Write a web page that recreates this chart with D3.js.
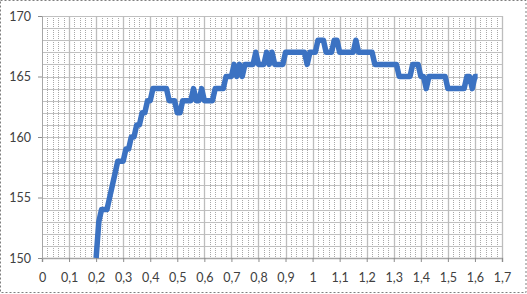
<!DOCTYPE html>
<html>
<head>
<meta charset="utf-8">
<script src="https://cdn.jsdelivr.net/npm/d3@7"></script>
<style>
  html, body { margin: 0; padding: 0; background: #fff; }
  svg { display: block; }
  .tick text { font-family: Lato, "Open Sans", sans-serif; font-size: 12.5px; fill: #404040; }
</style>
</head>
<body>
<svg width="527" height="294"></svg>
<script>
// x values (comma decimal in labels)
const xValues = [
  0.20, 0.21, 0.22, 0.23, 0.24, 0.25, 0.26, 0.27, 0.28, 0.29,
  0.30, 0.31, 0.32, 0.33, 0.34, 0.35, 0.36, 0.37, 0.38, 0.39,
  0.40, 0.41, 0.42, 0.43, 0.44, 0.45, 0.46, 0.47, 0.48, 0.49,
  0.50, 0.51, 0.52, 0.53, 0.54, 0.55, 0.56, 0.57, 0.58, 0.59,
  0.60, 0.61, 0.62, 0.63, 0.64, 0.65, 0.66, 0.67, 0.68, 0.69,
  0.70, 0.71, 0.72, 0.73, 0.74, 0.75, 0.76, 0.77, 0.78, 0.79,
  0.80, 0.81, 0.82, 0.83, 0.84, 0.85, 0.86, 0.87, 0.88, 0.89,
  0.90, 0.91, 0.92, 0.93, 0.94, 0.95, 0.96, 0.97, 0.98, 0.99,
  1.00, 1.01, 1.02, 1.03, 1.04, 1.05, 1.06, 1.07, 1.08, 1.09,
  1.10, 1.11, 1.12, 1.13, 1.14, 1.15, 1.16, 1.17, 1.18, 1.19,
  1.20, 1.21, 1.22, 1.23, 1.24, 1.25, 1.26, 1.27, 1.28, 1.29,
  1.30, 1.31, 1.32, 1.33, 1.34, 1.35, 1.36, 1.37, 1.38, 1.39,
  1.40, 1.41, 1.42, 1.43, 1.44, 1.45, 1.46, 1.47, 1.48, 1.49,
  1.50, 1.51, 1.52, 1.53, 1.54, 1.55, 1.56, 1.57, 1.58, 1.59,
  1.60, 1.61
]
const yValues = [
  150, 153, 154, 154, 154, 155, 156, 157, 158, 158,
  158, 159, 159, 160, 160, 161, 161, 162, 162, 163,
  163, 164, 164, 164, 164, 164, 164, 163, 163, 163,
  162, 162, 163, 163, 163, 163, 164, 163, 163, 164,
  163, 163, 163, 163, 164, 164, 164, 164, 165, 165,
  165, 166, 165, 166, 165, 166, 166, 166, 166, 167,
  166, 166, 166, 167, 166, 167, 166, 166, 166, 166,
  167, 167, 167, 167, 167, 167, 167, 167, 166, 167,
  167, 167, 168, 168, 168, 167, 167, 167, 168, 168,
  167, 167, 167, 167, 167, 167, 168, 167, 167, 167,
  167, 167, 167, 166, 166, 166, 166, 166, 166, 166,
  166, 166, 165, 165, 165, 165, 165, 166, 166, 166,
  165, 165, 164, 165, 165, 165, 165, 165, 165, 165,
  164, 164, 164, 164, 164, 164, 164, 165, 165, 164,
  165, 165
]
const xTicks = [0, 0.1, 0.2, 0.3, 0.4, 0.5, 0.6, 0.7, 0.8, 0.9, 1, 1.1, 1.2, 1.3, 1.4, 1.5, 1.6, 1.7]
const xTickLabels = ["0", "0,1", "0,2", "0,3", "0,4", "0,5", "0,6", "0,7", "0,8", "0,9", "1", "1,1", "1,2", "1,3", "1,4", "1,5", "1,6", "1,7"]
const yTicks = [150, 155, 160, 165, 170]

const points = xValues.map((x, i) => ({ x, y: yValues[i] }))

const svg = d3.select("svg")
const margin = { top: 16, right: 25, bottom: 36, left: 42 }
const W = 527, H = 294
const innerW = W - margin.left - margin.right
const innerH = H - margin.top - margin.bottom

// dotted frame round the whole chart area
svg.append("rect")
  .attr("x", 0.5).attr("y", 0.5)
  .attr("width", W - 1.5).attr("height", H - 2)
  .attr("fill", "#fff")
  .attr("stroke", "#7f7f7f")
  .attr("stroke-dasharray", "2,2")

const g = svg.append("g").attr("transform", `translate(${margin.left},${margin.top})`)

const x = d3.scaleLinear().domain([0, 1.7]).range([0, innerW])
const y = d3.scaleLinear().domain([150, 170]).range([innerH, 0])

// minor vertical grid, dotted, every 0.02
const minorX = d3.range(0, 86).map(i => i * 0.02)
g.append("g").selectAll("line")
  .data(minorX).join("line")
    .attr("x1", d => Math.round(x(d)) + 0.5).attr("x2", d => Math.round(x(d)) + 0.5)
    .attr("y1", 0).attr("y2", innerH)
    .attr("stroke", "#a8a8a8")
    .attr("stroke-dasharray", "1,1")

// horizontal grid every unit
g.append("g").selectAll("line")
  .data(d3.range(151, 171))
  .join("line")
    .attr("x1", 0).attr("x2", innerW)
    .attr("y1", d => Math.round(y(d)) + 0.5).attr("y2", d => Math.round(y(d)) + 0.5)
    .attr("stroke", "#c0c0c0")

// major vertical grid every 0.1
g.append("g").selectAll("line")
  .data(xTicks.slice(1))
  .join("line")
    .attr("x1", d => Math.round(x(d)) + 0.5).attr("x2", d => Math.round(x(d)) + 0.5)
    .attr("y1", 0).attr("y2", innerH)
    .attr("stroke", "#bdbdbd")
    .attr("stroke-width", 1.3)

// axes
const xAxis = g.append("g")
  .attr("transform", `translate(0,${innerH})`)
  .call(d3.axisBottom(x).tickValues(xTicks).tickFormat((d, i) => xTickLabels[i]).tickSize(4).tickPadding(11))
const yAxis = g.append("g")
  .call(d3.axisLeft(y).tickValues(yTicks).tickSize(4).tickPadding(7))

xAxis.select(".domain").attr("stroke", "#a6a6a6").attr("stroke-width", 1.5)
yAxis.select(".domain").attr("stroke", "#a6a6a6")
g.selectAll(".tick line").attr("stroke", "#8c8c8c")

// the data line
const line = d3.line().x(d => x(d.x)).y(d => y(d.y))
g.append("path")
  .datum(points)
  .attr("d", line)
  .attr("fill", "none")
  .attr("stroke", "#3b72c2")
  .attr("stroke-width", 5.5)
  .attr("stroke-linejoin", "round")
  .attr("stroke-linecap", "butt")
</script>
</body>
</html>
